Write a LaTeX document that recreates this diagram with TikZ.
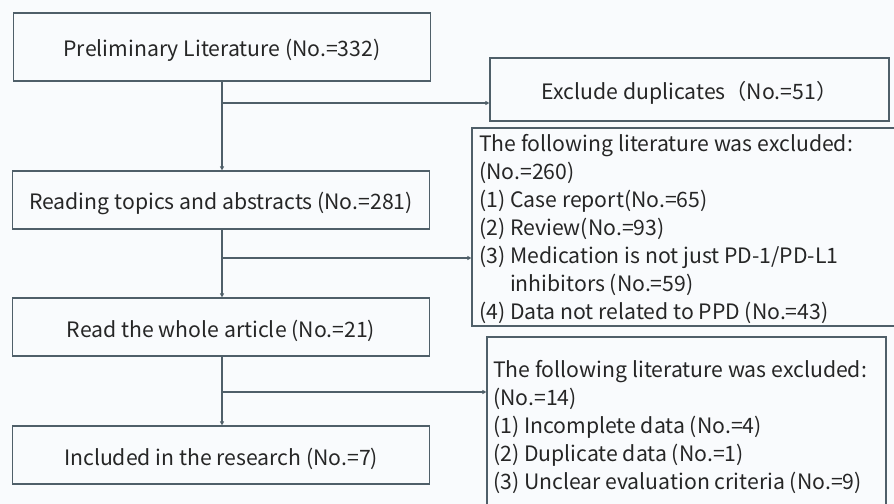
\documentclass[tikz,border=0pt]{standalone}
\usepackage{fontspec}
\setmainfont{Noto Sans CJK SC}
\usetikzlibrary{arrows.meta}
\definecolor{bgc}{HTML}{F9FBFD}
\definecolor{edge}{HTML}{4F5F69}
\definecolor{ink}{HTML}{262626}
\tikzset{
  box/.style={draw=edge, line width=1.2bp, fill=bgc, text=ink, inner sep=0pt, align=center,
    text height=22bp, text depth=2bp,
    font=\fontsize{21.3}{27}\selectfont},
  panel/.style={draw=edge, line width=1.2bp, fill=bgc, inner sep=0pt},
  listtext/.style={anchor=north west, inner sep=0pt, align=left, text=ink,
    font=\fontsize{21.3}{28.2}\selectfont},
  conn/.style={draw=edge, line width=1.2bp},
  arr/.style={conn, -{Triangle[length=4bp,width=4bp]}}
}
\begin{document}
\begin{tikzpicture}[x=1bp,y=-1bp]
\useasboundingbox (0,0) rectangle (894,504);
\fill[bgc] (0,0) rectangle (894,504);
\begin{scope}
\clip (0,0) rectangle (894,504);
% left column
\node[box, minimum width=417bp, minimum height=68bp] (pre) at (222,47) {Preliminary Literature (No.=332)};
\node[box, minimum width=417bp, minimum height=58bp] (read) at (221,200) {Reading topics and abstracts (No.=281)};
\node[box, minimum width=417bp, minimum height=58bp] (whole) at (221,327) {Read the whole article (No.=21)};
\node[box, minimum width=417bp, minimum height=58bp] (incl) at (221,455) {Included in the research (No.=7)};
% right column
\node[box, minimum width=399bp, minimum height=63bp] (dup) at (689.5,89.5) {Exclude duplicates（No.=51）};
\node[panel, minimum width=428bp, minimum height=198bp] (exa) at (686,227) {};
\node[panel, minimum width=399bp, minimum height=180bp] (exb) at (686.5,427) {};
\node[listtext] (exat) at (479,134) {The following literature was excluded:\\
(No.=260)\\
(1) Case report(No.=65)\\
(2) Review(No.=93)\\
(3) Medication is not just PD-1/PD-L1\\
\phantom{(3) }inhibitors (No.=59)\\
(4) Data not related to PPD (No.=43)};
\node[listtext] (exbt) at (493,360) {The following literature was excluded:\\
(No.=14)\\
(1) Incomplete data (No.=4)\\
(2) Duplicate data (No.=1)\\
(3) Unclear evaluation criteria (No.=9)};
% connectors
\coordinate (b1) at (222,103);
\coordinate (b2) at (222,258);
\coordinate (b3) at (222,392);
\draw[arr] (pre.south -| b1) -- (read.north -| b1);
\draw[arr] (read.south -| b2) -- (whole.north -| b2);
\draw[arr] (whole.south -| b3) -- (incl.north -| b3);
\draw[arr] (b1) -- (dup.west |- b1);
\draw[arr] (b2) -- (exa.west |- b2);
\draw[arr] (b3) -- (exb.west |- b3);
\end{scope}
\end{tikzpicture}
\end{document}
